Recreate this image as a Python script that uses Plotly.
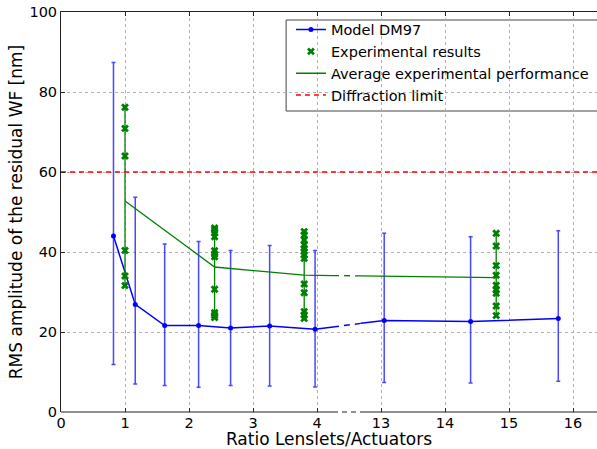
import numpy as np
import plotly.graph_objects as go

# ---------------- data (real x units) ----------------
model_x = [0.82, 1.16, 1.62, 2.15, 2.65, 3.26, 3.97, 13.05, 14.40, 15.77]
model_y = [44.0, 26.9, 21.6, 21.6, 21.0, 21.5, 20.7, 22.9, 22.6, 23.4]
model_err_plus = [43.4, 26.8, 20.4, 21.0, 19.4, 20.1, 19.7, 21.8, 21.2, 21.9]
model_err_minus = [32.1, 19.9, 15.0, 15.4, 14.4, 15.0, 14.45, 15.5, 15.35, 15.7]

exp_x = [1.0, 2.4, 3.8, 14.8]
exp_results_1 = [76.2, 70.9, 64.0, 40.4, 34.0, 31.6]
exp_results_2 = [46.0, 45.5, 44.8, 43.8, 40.3, 39.5, 38.8, 30.7, 24.8, 24.2, 23.6]
exp_results_3 = [45.1, 44.25, 43.0, 41.75, 40.9, 40.1, 39.25, 38.4, 32.0, 29.8, 25.1, 24.25, 23.4]
exp_results_4 = [44.7, 41.5, 36.6, 34.2, 31.7, 30.5, 29.7, 26.5, 24.1]
exp_groups = [exp_results_1, exp_results_2, exp_results_3, exp_results_4]
exp_average = [52.75, 36.25, 34.2, 33.6]

diffraction_limit = 60.0

tick_labels = [0, 1, 2, 3, 4, 13, 14, 15, 16]
y_ticks = [0, 20, 40, 60, 80, 100]

# ---------------- broken x axis ----------------
LEFT_MAX = 4.25          # end of left part (real units)
RIGHT_MIN = 12.6875      # start of right part (real units)
SHIFT = 8.0              # right part is drawn shifted left by this amount
X_END = 16.375


def to_disp(x):
    x = np.asarray(x, dtype=float)
    return np.where(x > (LEFT_MAX + RIGHT_MIN) / 2, x - SHIFT, x)


G0 = LEFT_MAX
G1 = RIGHT_MIN - SHIFT
XMAX = X_END - SHIFT


def split_path(xs, ys):
    sx, sy = [xs[0]], [ys[0]]
    dx, dy = [], []
    for i in range(1, len(xs)):
        x0, y0, x1, y1 = xs[i - 1], ys[i - 1], xs[i], ys[i]
        if x0 <= G0 and x1 >= G1:
            ya = y0 + (y1 - y0) * (G0 - x0) / (x1 - x0)
            yb = y0 + (y1 - y0) * (G1 - x0) / (x1 - x0)
            sx += [G0, None, G1]
            sy += [ya, None, yb]
            dx += [G0, G1, None]
            dy += [ya, yb, None]
        sx.append(x1)
        sy.append(y1)
    return sx, sy, dx, dy


BLUE = "#0000ff"
GREEN = "#008000"
RED = "#ff0000"
FONT = "DejaVu Sans"

fig = go.Figure()

# model
mdx = list(to_disp(model_x))
sx, sy, dx, dy = split_path(mdx, model_y)
fig.add_trace(go.Scatter(x=sx, y=sy, mode="lines", line=dict(color=BLUE, width=1.5),
                         showlegend=False, hoverinfo="skip"))
fig.add_trace(go.Scatter(x=dx, y=dy, mode="lines", line=dict(color=BLUE, width=1.5, dash="6px,5px"),
                         showlegend=False, hoverinfo="skip"))
fig.add_trace(go.Scatter(x=mdx, y=model_y, mode="markers",
                         marker=dict(color=BLUE, size=5),
                         error_y=dict(type="data", symmetric=False, array=model_err_plus,
                                      arrayminus=model_err_minus, color="rgba(40,40,255,0.85)",
                                      thickness=1.5, width=2),
                         showlegend=False))
fig.add_trace(go.Scatter(x=[None], y=[None], mode="lines+markers", name="Model DM97",
                         line=dict(color=BLUE, width=1.5), marker=dict(color=BLUE, size=5)))

# experimental results
ex_pts_x, ex_pts_y = [], []
for xv, grp in zip(exp_x, exp_groups):
    ex_pts_x += [float(to_disp(xv))] * len(grp)
    ex_pts_y += grp
edx = list(to_disp(exp_x))
err_up = [max(g) - a for g, a in zip(exp_groups, exp_average)]
err_dn = [a - min(g) for g, a in zip(exp_groups, exp_average)]
fig.add_trace(go.Scatter(x=edx, y=exp_average, mode="markers", marker=dict(size=0.1, color=GREEN, opacity=0),
                         error_y=dict(type="data", symmetric=False, array=err_up, arrayminus=err_dn,
                                      color=GREEN, thickness=1.3, width=0),
                         showlegend=False, hoverinfo="skip"))
fig.add_trace(go.Scatter(x=ex_pts_x, y=ex_pts_y, mode="markers", name="Experimental results",
                         marker=dict(symbol="x", color=GREEN, size=7, line=dict(width=0))))

# average
sx, sy, dx, dy = split_path(edx, exp_average)
fig.add_trace(go.Scatter(x=sx, y=sy, mode="lines", name="Average experimental performance",
                         line=dict(color=GREEN, width=1.3)))
fig.add_trace(go.Scatter(x=dx, y=dy, mode="lines", line=dict(color=GREEN, width=1.3, dash="6px,5px"),
                         showlegend=False, hoverinfo="skip"))

# diffraction limit
fig.add_trace(go.Scatter(x=[0, XMAX], y=[diffraction_limit, diffraction_limit], mode="lines",
                         name="Diffraction limit", line=dict(color=RED, width=1.5, dash="5px,4px")))

# bottom spine with break + legend frame
AX = "#222222"
shapes = [
    dict(type="line", xref="x", yref="paper", x0=0, x1=G0, y0=0, y1=0, line=dict(color=AX, width=1)),
    dict(type="line", xref="x", yref="paper", x0=G0, x1=G1, y0=0, y1=0,
         line=dict(color=AX, width=1, dash="5px,4px")),
    dict(type="line", xref="x", yref="paper", x0=G1, x1=XMAX, y0=0, y1=0, line=dict(color=AX, width=1)),
    dict(type="rect", xref="paper", yref="paper", x0=0.42, x1=1.05, y0=0.7525, y1=0.98,
         fillcolor="white", line=dict(color="#444444", width=1), layer="between"),
]

tickvals = [float(v) for v in to_disp(tick_labels)]

fig.update_layout(
    width=597, height=449,
    margin=dict(l=61, r=0, t=12, b=37),
    paper_bgcolor="white", plot_bgcolor="white",
    font=dict(family=FONT, size=15, color="black"),
    shapes=shapes,
    showlegend=True,
    legend=dict(x=0.429, y=0.996, xanchor="left", yanchor="top",
                bgcolor="rgba(255,255,255,0)", borderwidth=0,
                font=dict(size=14.5, family=FONT), tracegroupgap=0),
    xaxis=dict(range=[0, XMAX], tickvals=tickvals, ticktext=[str(t) for t in tick_labels],
               showgrid=True, gridcolor="#b0b0b0", griddash="dot", gridwidth=1,
               zeroline=False, showline=False, ticks="inside", ticklen=4, tickcolor=AX,
               tickfont=dict(size=14.5),
               title=dict(text="Ratio Lenslets/Actuators", font=dict(size=17), standoff=2)),
    xaxis2=dict(overlaying="x", side="top", range=[0, XMAX], tickvals=tickvals,
                showticklabels=False, showgrid=False, zeroline=False, showline=True,
                linecolor=AX, linewidth=1, ticks="inside", ticklen=4, tickcolor=AX),
    yaxis=dict(range=[0, 100], tickvals=y_ticks, showgrid=True, gridcolor="#b0b0b0",
               griddash="dot", gridwidth=1, zeroline=False, showline=True, linecolor=AX,
               linewidth=1, ticks="inside", ticklen=4, tickcolor=AX, tickfont=dict(size=14.5),
               title=dict(text="RMS amplitude of the residual WF [nm]", font=dict(size=17), standoff=2)),
)
# dummy trace to activate xaxis2
fig.add_trace(go.Scatter(x=[None], y=[None], xaxis="x2", showlegend=False, hoverinfo="skip"))

fig.write_html("out.html")
